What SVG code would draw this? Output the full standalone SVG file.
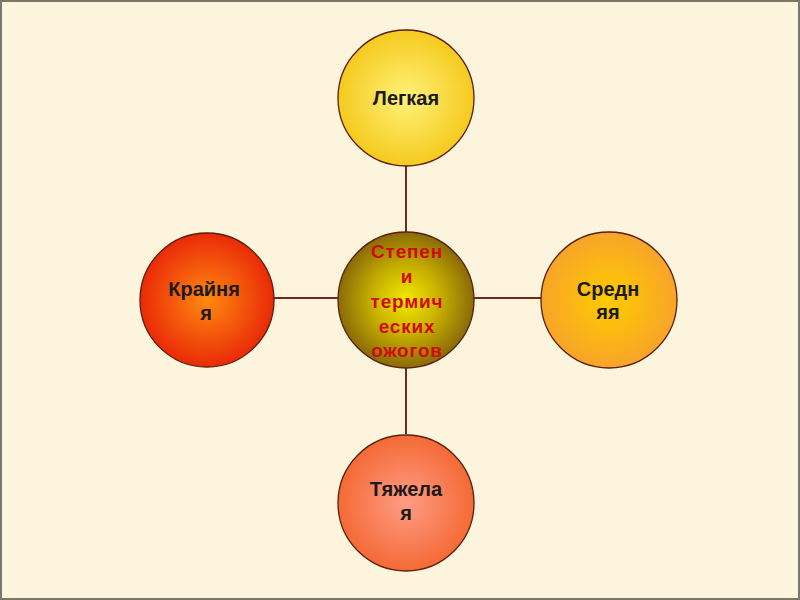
<svg xmlns="http://www.w3.org/2000/svg" width="800" height="600" viewBox="0 0 800 600">
<defs>
<radialGradient id="gTop" cx="50%" cy="50%" r="50%"><stop offset="0" stop-color="#FFF27A"/><stop offset="1" stop-color="#F5CA1E"/></radialGradient>
<radialGradient id="gLeft" cx="50%" cy="50%" r="50%"><stop offset="0" stop-color="#FF8A10"/><stop offset="1" stop-color="#EA2A08"/></radialGradient>
<radialGradient id="gRight" cx="50%" cy="50%" r="50%"><stop offset="0" stop-color="#FFCC00"/><stop offset="1" stop-color="#F7A429"/></radialGradient>
<radialGradient id="gBottom" cx="50%" cy="50%" r="50%"><stop offset="0" stop-color="#FF9C86"/><stop offset="1" stop-color="#F46A35"/></radialGradient>
<radialGradient id="gCenter" cx="50%" cy="50%" r="50%"><stop offset="0" stop-color="#F2EA00"/><stop offset="0.5" stop-color="#C8B000"/><stop offset="1" stop-color="#8A6A08"/></radialGradient>
<style>
.node{stroke:#5A1E0A;stroke-width:1.3}
.lbl{font-family:"Liberation Sans",Arial,sans-serif;font-weight:bold;font-size:20px;fill:#1A1A1A;text-anchor:middle}
.clbl{font-family:"Liberation Sans",Arial,sans-serif;font-weight:bold;font-size:19px;fill:#D00A00;text-anchor:middle;letter-spacing:0.8px}
.conn{stroke:#6B2A1C;stroke-width:2;fill:none}
</style>
</defs>
<rect x="0" y="0" width="800" height="600" fill="#FCF4DC"/>
<rect x="1" y="1" width="798" height="598" fill="none" stroke="#7A786A" stroke-width="2"/>
<g id="connectors">
<line class="conn" x1="406" y1="166" x2="406" y2="232"/>
<line class="conn" x1="406" y1="368" x2="406" y2="434"/>
<line class="conn" x1="273" y1="298" x2="338" y2="298"/>
<line class="conn" x1="474" y1="298" x2="541" y2="298"/>
</g>
<g id="center">
<circle class="node" cx="406" cy="300" r="68" fill="url(#gCenter)"/>
<text class="clbl" x="407" y="258">Степен</text>
<text class="clbl" x="407" y="283">и</text>
<text class="clbl" x="407" y="308">термич</text>
<text class="clbl" x="407" y="333">еских</text>
<text class="clbl" x="407" y="357">ожогов</text>
</g>
<g id="top">
<circle class="node" cx="406" cy="98" r="68" fill="url(#gTop)"/>
<text class="lbl" x="406" y="105">Легкая</text>
</g>
<g id="left">
<circle class="node" cx="207" cy="300" r="67" fill="url(#gLeft)"/>
<text class="lbl" x="204" y="296">Крайня</text>
<text class="lbl" x="206" y="320">я</text>
</g>
<g id="right">
<circle class="node" cx="609" cy="300" r="68" fill="url(#gRight)"/>
<text class="lbl" x="608" y="296">Средн</text>
<text class="lbl" x="608" y="319">яя</text>
</g>
<g id="bottom">
<circle class="node" cx="406" cy="503" r="68" fill="url(#gBottom)"/>
<text class="lbl" x="406" y="496">Тяжела</text>
<text class="lbl" x="406" y="520">я</text>
</g>
</svg>
